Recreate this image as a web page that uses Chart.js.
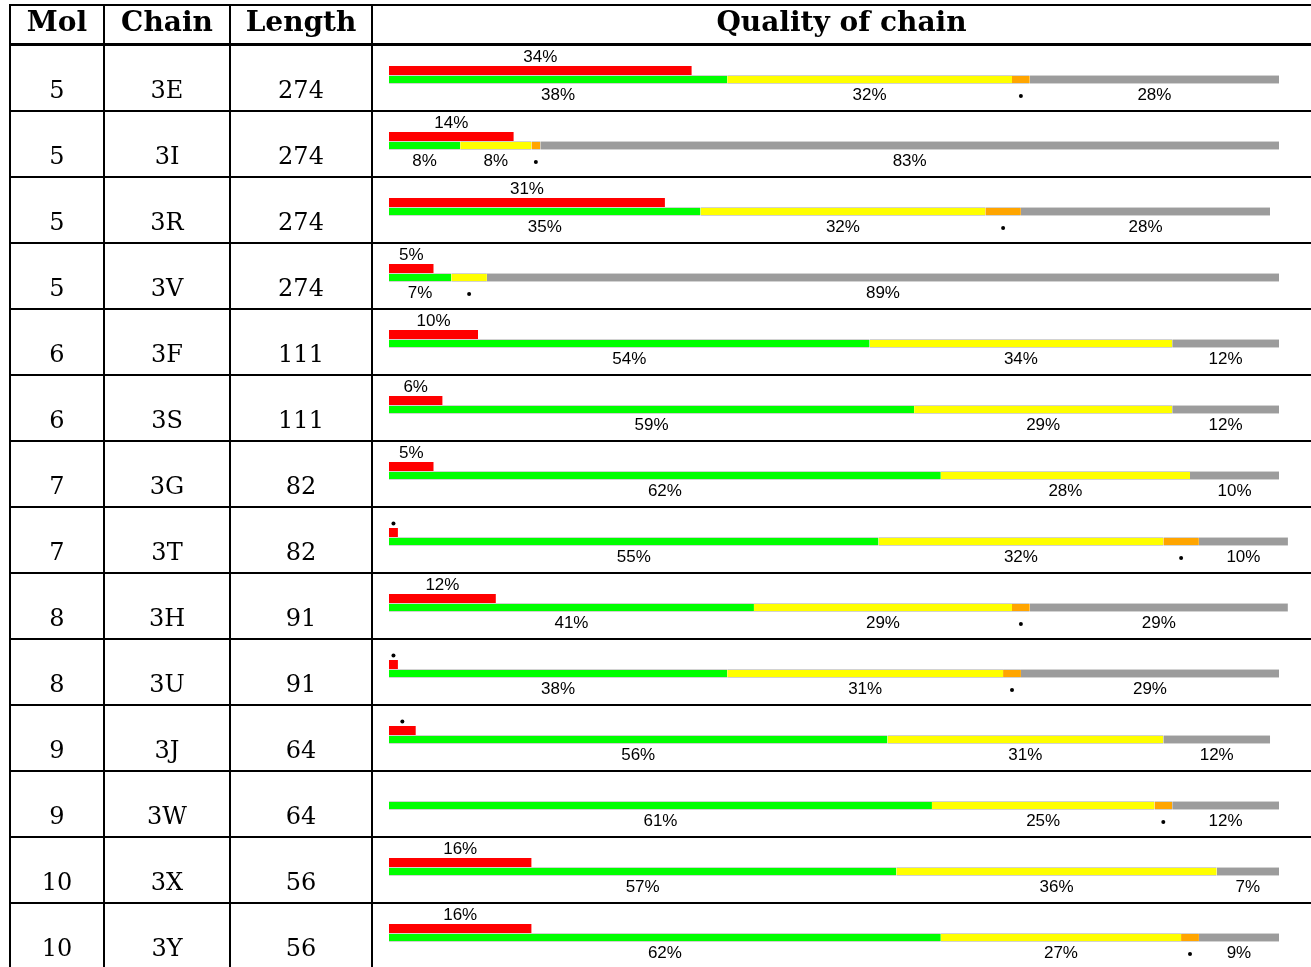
<!DOCTYPE html>
<html lang="en">
<head>
  <meta charset="UTF-8">
  <title>Quality of chain</title>
  <script src="https://cdn.jsdelivr.net/npm/chart.js"></script>
  <style>
    html, body {
      margin: 0;
      padding: 0;
      background: #fff;
      overflow: hidden;
    }
    #page {
      position: relative;
      width: 1311px;
      height: 967px;
    }
    .rule {
      position: absolute;
      background: #000;
    }
    .cell {
      position: absolute;
      text-align: center;
      font-family: "DejaVu Serif", serif;
      white-space: nowrap;
      color: #000;
    }
    .head {
      font-weight: bold;
      font-size: 28px;
      line-height: 28px;
    }
    .body {
      font-size: 24px;
      line-height: 24px;
    }
    #chart {
      position: absolute;
      left: 374px;
      top: 42px;
    }
  </style>
</head>
<body>
  <div id="page">
    <canvas id="chart" width="937" height="924"></canvas>
  </div>

  <script>
    const headers = ['Mol', 'Chain', 'Length', 'Quality of chain'];
    const mols = [5, 5, 5, 5, 6, 6, 7, 7, 8, 8, 9, 9, 10, 10];
    const chains = ['3E', '3I', '3R', '3V', '3F', '3S', '3G', '3T', '3H', '3U', '3J', '3W', '3X', '3Y'];
    const lengths = [274, 274, 274, 274, 111, 111, 82, 82, 91, 91, 64, 64, 56, 56];

    // percentages of residues (red bar = outliers, stacked bar = quality)
    const outliers = [34, 14, 31, 5, 10, 6, 5, 1, 12, 1, 3, 0, 16, 16];
    const good     = [38, 8, 35, 7, 54, 59, 62, 55, 41, 38, 56, 61, 57, 62];
    const oneBad   = [32, 8, 32, 4, 34, 29, 28, 32, 29, 31, 31, 25, 36, 27];
    const twoBad   = [2, 1, 4, 0, 0, 0, 0, 4, 2, 2, 0, 2, 0, 2];
    const notFit   = [28, 83, 28, 89, 12, 12, 10, 10, 29, 29, 12, 12, 7, 9];

    const page = document.getElementById('page');
    const rowTop = 45, rowH = 66;
    const colEdges = [10, 104, 230, 372, 1311];

    function rule(x, y, w, h) {
      const d = document.createElement('div');
      d.className = 'rule';
      d.style.left = x + 'px';
      d.style.top = y + 'px';
      d.style.width = w + 'px';
      d.style.height = h + 'px';
      page.appendChild(d);
    }

    function cell(cls, text, col, top) {
      const d = document.createElement('div');
      d.className = 'cell ' + cls;
      d.textContent = text;
      d.style.left = colEdges[col] + 'px';
      d.style.width = (colEdges[col + 1] - colEdges[col]) + 'px';
      d.style.top = top + 'px';
      page.appendChild(d);
    }

    // table rules
    rule(9, 4, 1302, 2);
    rule(9, 43, 1302, 3);
    for (let i = 1; i < chains.length; i++) rule(9, rowTop + rowH * i - 1, 1302, 2);
    colEdges.slice(0, 4).forEach(x => rule(x - 1, 4, 2, 963));

    // header + first three columns
    headers.forEach((h, c) => cell('head', h, c, 8));
    chains.forEach((ch, i) => {
      const top = rowTop + rowH * i + 33;
      cell('body', mols[i], 0, top);
      cell('body', ch, 1, top);
      cell('body', lengths[i], 2, top);
    });

    const segLabels = {
      id: 'segLabels',
      afterDatasetsDraw(chart) {
        const c = chart.ctx;
        c.save();
        c.fillStyle = '#000';
        c.font = '17px "Liberation Sans", Arial, sans-serif';
        c.textAlign = 'center';
        c.textBaseline = 'alphabetic';
        chart.data.datasets.forEach((ds, d) => {
          const meta = chart.getDatasetMeta(d);
          meta.data.forEach((bar, i) => {
            const v = ds.data[i];
            if (!v) return;
            const p = bar.getProps(['x', 'y', 'base', 'height'], true);
            const cx = (p.x + p.base) / 2;
            const above = ds.stack === 'out';
            const edge = above ? p.y - p.height / 2 : p.y + p.height / 2;
            if (v >= 5) {
              c.fillText(v + '%', cx, above ? edge - 4 : edge + 16);
            } else {
              c.beginPath();
              c.arc(cx, above ? edge - 4.5 : edge + 12, 2, 0, Math.PI * 2);
              c.fill();
            }
          });
        });
        c.restore();
      }
    };

    const edge = { top: 1, bottom: 1, left: 0, right: 0 };
    const ctx = document.getElementById('chart').getContext('2d');
    new Chart(ctx, {
      type: 'bar',
      data: {
        labels: chains,
        datasets: [
          { label: 'outliers', data: outliers, backgroundColor: '#ff0000', stack: 'out' },
          { label: 'good', data: good, backgroundColor: '#00ff00', borderColor: '#d2d2d2', borderWidth: edge, stack: 'q' },
          { label: '1 bad', data: oneBad, backgroundColor: '#ffff00', borderColor: '#d2d2d2', borderWidth: edge, stack: 'q' },
          { label: '2 bad', data: twoBad, backgroundColor: '#ffa500', borderColor: '#d2d2d2', borderWidth: edge, stack: 'q' },
          { label: 'not fit', data: notFit, backgroundColor: '#9c9c9c', borderColor: '#d2d2d2', borderWidth: edge, stack: 'q' }
        ]
      },
      options: {
        indexAxis: 'y',
        responsive: false,
        animation: false,
        devicePixelRatio: 1,
        layout: { padding: { left: 15, right: 32, top: 0, bottom: 0 } },
        datasets: {
          bar: { categoryPercentage: 18 / 66, barPercentage: 1, clip: false, borderSkipped: false }
        },
        scales: {
          x: { stacked: true, min: 0, max: 100, display: false },
          y: { display: false }
        },
        plugins: {
          legend: { display: false },
          tooltip: { enabled: false }
        }
      },
      plugins: [segLabels]
    });
  </script>
</body>
</html>
